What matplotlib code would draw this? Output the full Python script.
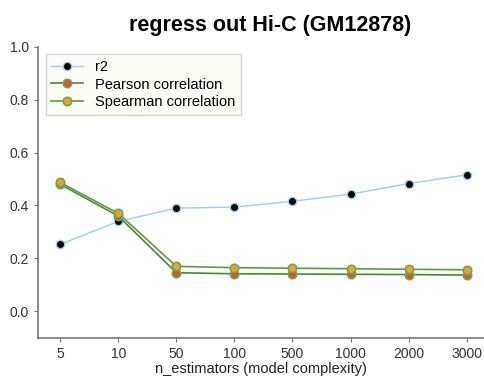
import matplotlib
matplotlib.use("Agg")
import matplotlib.pyplot as plt

plt.rcParams['font.family'] = ['Liberation Sans', 'DejaVu Sans']

categories = ["5", "10", "50", "100", "500", "1000", "2000", "3000"]
r2 = [0.253, 0.340, 0.390, 0.394, 0.416, 0.443, 0.483, 0.516]
pearson = [0.480, 0.360, 0.146, 0.142, 0.141, 0.140, 0.139, 0.137]
spearman = [0.487, 0.370, 0.170, 0.165, 0.163, 0.161, 0.159, 0.157]

fig = plt.figure(figsize=(4.84, 3.77), dpi=100)
ax = fig.add_axes([0.079, 0.104, 0.921, 0.772])
x = list(range(len(categories)))

ax.plot(x, r2, '-o', color='#9fd0e8', lw=1.0, markersize=6,
        markerfacecolor='black', markeredgecolor='#9fd0e8', markeredgewidth=1.0, label='r2')
ax.plot(x, pearson, '-o', color='#3f8f2f', lw=1.2, markersize=6,
        markerfacecolor='#e0502a', markeredgecolor='#6aa84f', markeredgewidth=1.2,
        label='Pearson correlation')
ax.plot(x, spearman, '-o', color='#5a9e3c', lw=1.2, markersize=6,
        markerfacecolor='#f0a030', markeredgecolor='#6aa84f', markeredgewidth=1.2,
        label='Spearman correlation')

ax.set_xticks(x)
ax.set_xticklabels(categories)
ax.set_xlim(-0.38, 7.3)
ax.set_ylim(-0.1, 1.0)
ax.set_yticks([0.0, 0.2, 0.4, 0.6, 0.8, 1.0])
for s in ['top', 'right']:
    ax.spines[s].set_visible(False)
for s in ['left', 'bottom']:
    ax.spines[s].set_color('#777777')
    ax.spines[s].set_linewidth(1.2)
ax.tick_params(colors='#333333', labelsize=10, length=3, color='#777777')
ax.set_xlabel('n_estimators (model complexity)', fontsize=10.5, color='#222222', labelpad=1)
ax.set_title('regress out Hi-C (GM12878)', fontsize=15.5, fontweight='bold', pad=11, x=0.52)
leg = ax.legend(loc='upper left', fontsize=10.5, frameon=True, fancybox=False,
                facecolor='#fdfdf6', edgecolor='#cccccc', borderpad=0.4,
                handlelength=2.2, labelspacing=0.25)
fig.savefig('out.png', dpi=100)
